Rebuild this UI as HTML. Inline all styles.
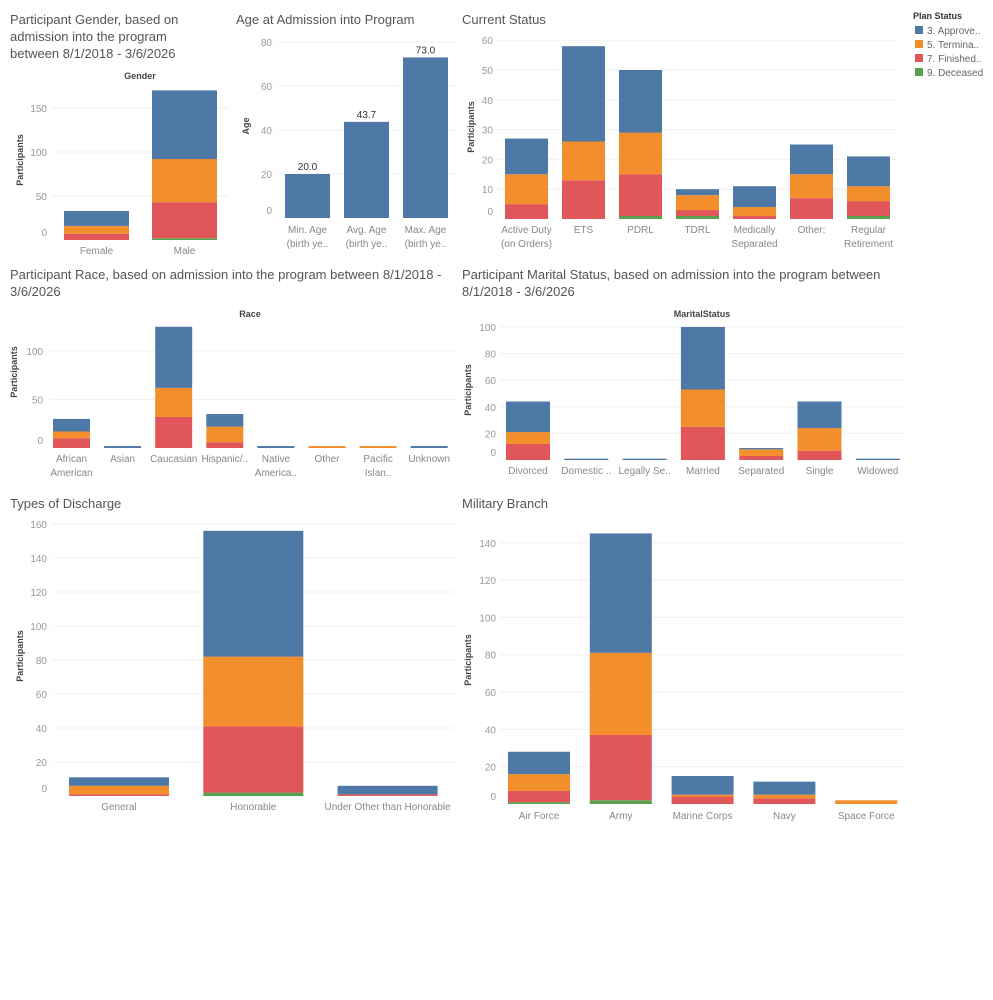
<!DOCTYPE html>
<html><head><meta charset="utf-8">
<style>
body{margin:0;background:#fff;}
svg{display:block;font-family:"Liberation Sans",sans-serif;}
.title{font-size:13px;fill:#555;}
.tick{font-size:10px;fill:#999;}
.cat{font-size:10px;fill:#888;}
.axt{font-size:9px;font-weight:bold;fill:#444;}
</style></head>
<body>
<svg id="dash" width="993" height="1000" viewBox="0 0 993 1000">
<text class="title" x="10" y="24">Participant Gender, based on</text>
<text class="title" x="10" y="41">admission into the program</text>
<text class="title" x="10" y="58">between 8/1/2018 - 3/6/2026</text>
<text class="title" x="236" y="24">Age at Admission into Program</text>
<text class="title" x="462" y="24">Current Status</text>
<text class="title" x="10" y="279">Participant Race, based on admission into the program between 8/1/2018 -</text>
<text class="title" x="10" y="296">3/6/2026</text>
<text class="title" x="462" y="279">Participant Marital Status, based on admission into the program between</text>
<text class="title" x="462" y="296">8/1/2018 - 3/6/2026</text>
<text class="title" x="10" y="508">Types of Discharge</text>
<text class="title" x="462" y="508">Military Branch</text>
<g>
<text x="913" y="19" style="font-size:9px;font-weight:bold;fill:#333">Plan Status</text>
<rect x="915" y="26" width="8" height="8" fill="#4e79a7"/>
<text x="927" y="34" style="font-size:10px;fill:#666">3. Approve..</text>
<rect x="915" y="40" width="8" height="8" fill="#f28e2b"/>
<text x="927" y="48" style="font-size:10px;fill:#666">5. Termina..</text>
<rect x="915" y="54" width="8" height="8" fill="#e15759"/>
<text x="927" y="62" style="font-size:10px;fill:#666">7. Finished..</text>
<rect x="915" y="68" width="8" height="8" fill="#59a14f"/>
<text x="927" y="76" style="font-size:10px;fill:#666">9. Deceased</text>
</g>
</svg>
<script>
// ---- data ----
const genderCats = ["Female", "Male"];
const genderDeceased = [0, 2];
const genderFinished = [7, 41];
const genderTerminated = [9, 49];
const genderApproved = [17, 78];
const genderTicks = [0, 50, 100, 150];

const ageCats = ["Min. Age\n(birth ye..", "Avg. Age\n(birth ye..", "Max. Age\n(birth ye.."];
const ageValues = [20.0, 43.7, 73.0];
const ageTicks = [0, 20, 40, 60, 80];

const statusCats = ["Active Duty\n(on Orders)", "ETS", "PDRL", "TDRL", "Medically\nSeparated", "Other:", "Regular\nRetirement"];
const statusDeceased = [0, 0, 1, 1, 0, 0, 1];
const statusFinished = [5, 13, 14, 2, 1, 7, 5];
const statusTerminated = [10, 13, 14, 5, 3, 8, 5];
const statusApproved = [12, 32, 21, 2, 7, 10, 10];
const statusTicks = [0, 10, 20, 30, 40, 50, 60];

const raceCats = ["African\nAmerican", "Asian", "Caucasian", "Hispanic/..", "Native\nAmerica..", "Other", "Pacific\nIslan..", "Unknown"];
const raceDeceased = [0, 0, 0, 0, 0, 0, 0, 0];
const raceFinished = [10, 0, 32, 6, 0, 0, 0, 0];
const raceTerminated = [7, 0, 30, 16, 0, 2, 2, 0];
const raceApproved = [13, 2, 63, 13, 2, 0, 0, 2];
const raceTicks = [0, 50, 100];

const maritalCats = ["Divorced", "Domestic ..", "Legally Se..", "Married", "Separated", "Single", "Widowed"];
const maritalDeceased = [0, 0, 0, 0, 0, 0, 0];
const maritalFinished = [12, 0, 0, 25, 3, 7, 0];
const maritalTerminated = [9, 0, 0, 28, 5, 17, 0];
const maritalApproved = [23, 1, 1, 47, 1, 20, 1];
const maritalTicks = [0, 20, 40, 60, 80, 100];

const dischargeCats = ["General", "Honorable", "Under Other than Honorable"];
const dischargeDeceased = [0, 2, 0];
const dischargeFinished = [1, 39, 1];
const dischargeTerminated = [5, 41, 0];
const dischargeApproved = [5, 74, 5];
const dischargeTicks = [0, 20, 40, 60, 80, 100, 120, 140, 160];

const branchCats = ["Air Force", "Army", "Marine Corps", "Navy", "Space Force"];
const branchDeceased = [1, 2, 0, 0, 0];
const branchFinished = [6, 35, 4, 3, 0];
const branchTerminated = [9, 44, 1, 2, 2];
const branchApproved = [12, 64, 10, 7, 0];
const branchTicks = [0, 20, 40, 60, 80, 100, 120, 140];

const COLORS = ["#59a14f", "#e15759", "#f28e2b", "#4e79a7"];
const SERIES_NAMES = ["deceased", "finished", "terminated", "approved"];

const svg = document.getElementById('dash');
const NS = 'http://www.w3.org/2000/svg';
function mk(tag, attrs) {
  const el = document.createElementNS(NS, tag);
  for (const k in attrs) el.setAttribute(k, attrs[k]);
  svg.appendChild(el);
  return el;
}

function drawChart(cfg) {
  const y = v => cfg.y0 - v * cfg.ppu;
  // gridlines & ticks
  cfg.ticks.forEach(t => {
    if (t > 0) {
      const g = mk('line', {x1: cfg.plotX0, x2: cfg.plotX1, y1: y(t), y2: y(t), stroke: '#f0f0f0', 'stroke-width': 1});
      
      
    }
    const tx = mk('text', {x: cfg.tickX, y: (t === 0 ? y(t) - 4 : y(t) + 4), 'text-anchor': 'end', class: 'tick'});
    tx.textContent = t;
    
    
  });
  // axis title
  const at = mk('text', {x: cfg.axX, y: cfg.axY, class: 'axt', transform: 'rotate(-90 ' + cfg.axX + ' ' + cfg.axY + ')', 'text-anchor': 'middle'});
  at.textContent = cfg.axTitle;
  
  
  if (cfg.header) {
    const h = mk('text', {x: cfg.headerX, y: cfg.headerY, class: 'axt', 'text-anchor': 'middle'});
    h.textContent = cfg.header;
    
    
  }
  cfg.cats.forEach((c, i) => {
    const bx = cfg.barX0 + i * cfg.step;
    let acc = 0;
    cfg.series.forEach((s, si) => {
      const v = s[i];
      if (v > 0) {
        const r = mk('rect', {x: bx, y: y(acc + v), width: cfg.barW, height: v * cfg.ppu, fill: cfg.colors ? cfg.colors[si] : COLORS[si]});
        
        
      }
      acc += v;
    });
    if (cfg.valueLabels) {
      const vl = mk('text', {x: bx + cfg.barW / 2, y: y(acc) - 4, 'text-anchor': 'middle', style: 'font-size:10px;fill:#333'});
      vl.textContent = acc.toFixed(1);
      
      
    }
    c.split('\n').forEach((line, li) => {
      const t = mk('text', {x: bx + cfg.barW / 2, y: cfg.catY + li * 14, 'text-anchor': 'middle', class: 'cat'});
      t.textContent = line;
      
      
    });
  });
}

drawChart({id: 'gender', cats: genderCats, series: [genderDeceased, genderFinished, genderTerminated, genderApproved],
  ticks: genderTicks, y0: 240, ppu: 0.88, plotX0: 52, plotX1: 228, tickX: 47, barX0: 64, step: 88, barW: 65,
  axTitle: 'Participants', axX: 23, axY: 160, header: 'Gender', headerX: 140, headerY: 79, catY: 254});

drawChart({id: 'age', cats: ageCats, series: [ageValues], colors: ['#4e79a7'], names: ['age'],
  ticks: ageTicks, y0: 218, ppu: 2.2, plotX0: 276, plotX1: 455, tickX: 272, barX0: 285, step: 59, barW: 45,
  axTitle: 'Age', axX: 249, axY: 126, valueLabels: true, catY: 233});

drawChart({id: 'status', cats: statusCats, series: [statusDeceased, statusFinished, statusTerminated, statusApproved],
  ticks: statusTicks, y0: 219, ppu: 2.98, plotX0: 497, plotX1: 895, tickX: 493, barX0: 505, step: 57, barW: 43,
  axTitle: 'Participants', axX: 474, axY: 127, catY: 233});

drawChart({id: 'race', cats: raceCats, series: [raceDeceased, raceFinished, raceTerminated, raceApproved],
  ticks: raceTicks, y0: 448, ppu: 0.97, plotX0: 50, plotX1: 455, tickX: 43, barX0: 53, step: 51.1, barW: 37,
  axTitle: 'Participants', axX: 17, axY: 372, header: 'Race', headerX: 250, headerY: 317, catY: 462});

drawChart({id: 'marital', cats: maritalCats, series: [maritalDeceased, maritalFinished, maritalTerminated, maritalApproved],
  ticks: maritalTicks, y0: 460, ppu: 1.33, plotX0: 500, plotX1: 905, tickX: 496, barX0: 506, step: 58.3, barW: 44,
  axTitle: 'Participants', axX: 471, axY: 390, header: 'MaritalStatus', headerX: 702, headerY: 317, catY: 474});

drawChart({id: 'discharge', cats: dischargeCats, series: [dischargeDeceased, dischargeFinished, dischargeTerminated, dischargeApproved],
  ticks: dischargeTicks, y0: 796, ppu: 1.7, plotX0: 52, plotX1: 455, tickX: 47, barX0: 69, step: 134.3, barW: 100,
  axTitle: 'Participants', axX: 23, axY: 656, catY: 810});

drawChart({id: 'branch', cats: branchCats, series: [branchDeceased, branchFinished, branchTerminated, branchApproved],
  ticks: branchTicks, y0: 804, ppu: 1.866, plotX0: 500, plotX1: 905, tickX: 496, barX0: 508, step: 81.8, barW: 62,
  axTitle: 'Participants', axX: 471, axY: 660, catY: 819});
</script>
</body></html>
